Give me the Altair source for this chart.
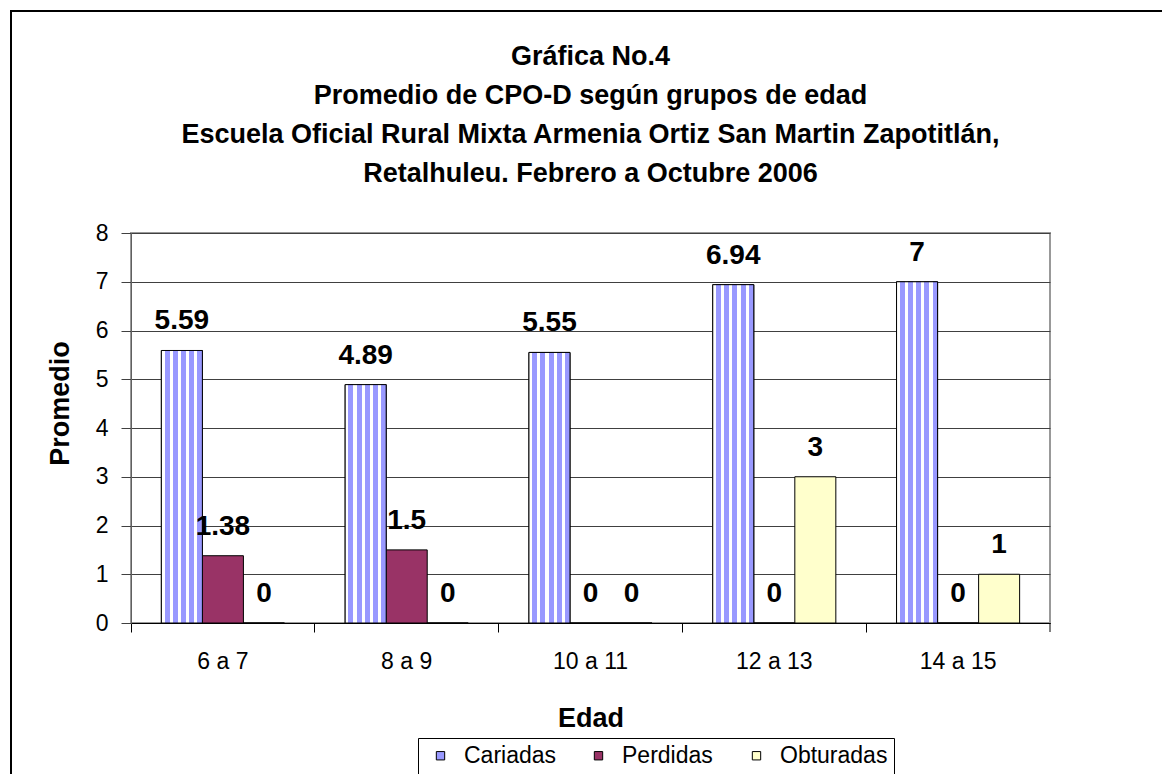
import altair as alt
import pandas as pd

categories = ["6 a 7", "8 a 9", "10 a 11", "12 a 13", "14 a 15"]
series_names = ["Cariadas", "Perdidas", "Obturadas"]
cariadas = [5.59, 4.89, 5.55, 6.94, 7]
perdidas = [1.38, 1.5, 0, 0, 0]
obturadas = [0, 0, 0, 3, 1]
y_ticks = [0, 1, 2, 3, 4, 5, 6, 7, 8]
title_lines = [
    "Gráfica No.4",
    "Promedio de CPO-D según grupos de edad",
    "Escuela Oficial Rural Mixta Armenia Ortiz San Martin Zapotitlán,",
    "Retalhuleu. Febrero a Octubre 2006",
]
series_colors = ["#9999ff", "#993366", "#ffffcc"]

rows = []
for s, vals in zip(series_names, [cariadas, perdidas, obturadas]):
    for c, v in zip(categories, vals):
        rows.append({"Edad": c, "Serie": s, "Promedio": v})
df = pd.DataFrame(rows)

W, H = 919, 390
FONT = "Liberation Sans"

x_enc = alt.X(
    "Edad:N",
    sort=categories,
    scale=alt.Scale(domain=categories, paddingInner=0, paddingOuter=0),
    axis=alt.Axis(
        title="Edad",
        bandPosition=0,
        labelAngle=0,
        labelFontSize=23,
        labelColor="black",
        labelPadding=18,
        tickSize=9,
        tickColor="black",
        domainColor="black",
        domainWidth=1,
        grid=False,
        titleFontSize=27,
        titleFontWeight="bold",
        titleColor="black",
        titleX=W / 2,
        titleY=103,
        titleBaseline="alphabetic",
        titleAlign="center",
    ),
)
xo = alt.XOffset(
    "Serie:N",
    sort=series_names,
    scale=alt.Scale(domain=series_names, paddingInner=0, paddingOuter=0.74),
)
y_enc = alt.Y(
    "Promedio:Q",
    scale=alt.Scale(domain=[0, 8], nice=False),
    axis=alt.Axis(
        title="Promedio",
        values=y_ticks,
        labelFontSize=23,
        labelColor="black",
        labelPadding=13,
        tickSize=10,
        tickColor="#404040",
        domainColor="#606060",
        grid=True,
        gridColor="#404040",
        gridWidth=1,
        titleFontSize=27,
        titleFontWeight="bold",
        titleColor="black",
        titleX=-71,
        titleY=H / 2 - 25,
        titleAngle=270,
        titleBaseline="middle",
        titleAlign="center",
    ),
)

bars = alt.Chart(df).mark_bar(stroke="black", strokeWidth=1).encode(
    x=x_enc,
    xOffset=xo,
    y=y_enc,
    color=alt.Color(
        "Serie:N",
        sort=series_names,
        scale=alt.Scale(domain=series_names, range=series_colors),
        legend=alt.Legend(
            orient="none",
            legendX=287,
            legendY=505,
            direction="horizontal",
            title=None,
            labelFontSize=23,
            labelColor="black",
            symbolType="square",
            symbolSize=70,
            symbolStrokeColor="black",
            symbolStrokeWidth=1,
            symbolOpacity=1,
            symbolOffset=5,
            strokeColor="black",
            fillColor="white",
            padding=6,
            columnPadding=10,
            gridAlign="all",
            labelOffset=12,
        ),
    ),
)

stops = []
for k in range(5):
    s = k * 0.2
    stops += [
        alt.GradientStop(offset=s, color="white"),
        alt.GradientStop(offset=s + 0.08, color="white"),
        alt.GradientStop(offset=s + 0.08, color="#9999ff"),
        alt.GradientStop(offset=s + 0.2, color="#9999ff"),
    ]
stripes = alt.LinearGradient(gradient="linear", stops=stops, x1=0, x2=1, y1=0, y2=0)

striped = (
    alt.Chart(df)
    .transform_filter(alt.datum.Serie == "Cariadas")
    .mark_bar(fill=stripes, stroke="black", strokeWidth=1)
    .encode(x=x_enc, xOffset=xo, y=y_enc)
)

labels = alt.Chart(df).mark_text(
    fontSize=28, fontWeight="bold", baseline="alphabetic", dy=-21, color="black"
).encode(
    x=x_enc,
    xOffset=xo,
    y=y_enc,
    text=alt.Text("Promedio:Q", format=".4~g"),
)

one = pd.DataFrame({"k": [0]})
end_tick = alt.Chart(one).mark_rule(color="black", strokeWidth=1).encode(
    x=alt.value(W), y=alt.value(H), y2=alt.value(H + 9)
)
border_left = alt.Chart(one).mark_rule(color="black", strokeWidth=2).encode(
    x=alt.value(-120), y=alt.value(-222), y2=alt.value(545)
)
border_top = alt.Chart(one).mark_rule(color="black", strokeWidth=2).encode(
    x=alt.value(-121), x2=alt.value(1035), y=alt.value(-222)
)

chart = (
    alt.layer(bars, striped, labels, end_tick, border_left, border_top)
    .properties(
        width=W,
        height=H,
        autosize=alt.AutoSizeParams(type="none"),
        padding={"left": 123, "top": 225, "right": 112, "bottom": 151},
        title=alt.TitleParams(
            text=title_lines,
            fontSize=27,
            fontWeight="bold",
            anchor="middle",
            frame="group",
            baseline="alphabetic",
            lineHeight=39,
            offset=0,
            dy=199,
            color="black",
        ),
    )
    .configure(font=FONT, background="white")
    .configure_view(stroke="#999999", strokeWidth=2)
)

chart.save("out.html", embed_options={"renderer": "svg", "actions": False})
